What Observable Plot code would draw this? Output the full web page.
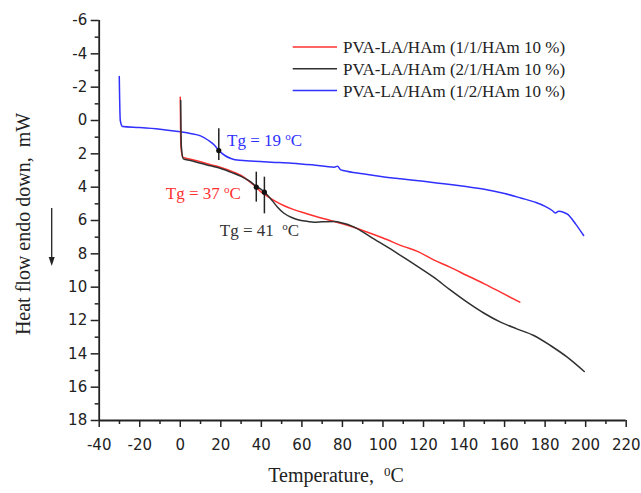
<!DOCTYPE html>
<html>
<head>
<meta charset="utf-8">
<script src="https://cdn.jsdelivr.net/npm/d3@7"></script>
<script src="https://cdn.jsdelivr.net/npm/@observablehq/plot@0.6"></script>
<style>
  html, body { margin: 0; padding: 0; background: #fff; }
  #chart { position: relative; width: 641px; height: 493px; }
</style>
</head>
<body>
<div id="chart"></div>
<script>
// ---- data ----
const seriesNames = ["PVA-LA/HAm (1/1/HAm 10 %)", "PVA-LA/HAm (2/1/HAm 10 %)", "PVA-LA/HAm (1/2/HAm 10 %)"];
const seriesColors = ["#ff3030", "#303030", "#3030ff"];

const redT = [0, 0.3, 1.2, 5, 10, 15, 20, 26, 30, 34, 37.5, 40, 43, 47, 51, 56, 62, 69, 75, 80, 90, 100, 110, 117, 125, 133, 141.5, 150, 158, 167.5];
const redV = [-1.4, 1.5, 2.2, 2.32, 2.48, 2.65, 2.82, 3.08, 3.3, 3.65, 4.0, 4.3, 4.55, 4.85, 5.1, 5.35, 5.58, 5.83, 6.03, 6.2, 6.6, 7.05, 7.55, 7.85, 8.36, 8.8, 9.3, 9.8, 10.3, 10.9];

const blackT = [0.2, 0.5, 1.5, 5, 10, 15, 20, 26, 30, 34, 37, 41.2, 45, 48, 51, 55, 59, 63, 66, 70, 76, 80, 85, 90, 95.5, 103.7, 110, 117, 125, 133, 141.5, 149.7, 158, 166, 174.4, 182.6, 190.9, 199.3];
const blackV = [-1.2, 1.5, 2.3, 2.4, 2.57, 2.72, 2.88, 3.15, 3.35, 3.62, 3.9, 4.26, 4.75, 5.2, 5.55, 5.82, 5.98, 6.06, 6.1, 6.08, 6.06, 6.15, 6.35, 6.68, 7.1, 7.7, 8.2, 8.75, 9.4, 10.15, 10.9, 11.55, 12.1, 12.5, 12.9, 13.5, 14.2, 15.06];

const blueT = [-30.1, -29.6, -28.5, -20, -10, 0, 5, 10, 14, 17, 19, 22, 25, 27, 35, 45, 55, 65, 76, 77.6, 79, 81, 90, 99, 108.6, 120, 130, 140, 150, 160, 168, 175, 180, 183.5, 185, 186.7, 189, 191, 195, 199];
const blueV = [-2.64, 0.0, 0.36, 0.42, 0.52, 0.68, 0.78, 0.92, 1.2, 1.5, 1.8, 2.1, 2.28, 2.35, 2.43, 2.5, 2.56, 2.66, 2.8, 2.74, 2.95, 3.02, 3.2, 3.36, 3.5, 3.65, 3.8, 3.95, 4.12, 4.38, 4.65, 4.9, 5.15, 5.4, 5.55, 5.45, 5.5, 5.62, 6.2, 6.9];

// Tg annotations
const tgT = [19, 37.5, 41.5];
const tgDotV = [1.8, 4.0, 4.3];
const tgBarTop = [0.5, 3.1, 3.4];
const tgBarBottom = [2.4, 4.9, 5.6];
const tgLabels = ["Tg = 19 °C", "Tg = 37 °C", "Tg = 41  °C"];
const tgLabelT = [23.1, 29.9, 19.5];
const tgLabelV = [1.2, 4.36, 6.6];

const xMajor = d3.range(-40, 221, 20);
const xMinor = d3.range(-30, 220, 20);
const yMajor = d3.range(-6, 19, 2);
const yMinor = d3.range(-5, 18, 2);

const xLabel = "Temperature,  °C";
const yLabel = "Heat flow endo down,  mW";

// ---- build tables ----
const toRows = (T, V) => T.map((t, i) => ({t, v: V[i]}));
const red = toRows(redT, redV);
const black = toRows(blackT, blackV);
const blue = toRows(blueT, blueV);
const tg = tgT.map((t, i) => ({t, dot: tgDotV[i], y1: tgBarTop[i], y2: tgBarBottom[i]}));
const tgText = tgLabels.map((s, i) => ({text: s, t: tgLabelT[i], v: tgLabelV[i]}));

const serif = "'Liberation Serif', 'Times New Roman', serif";
const AX = "#222";

const plot = Plot.plot({
  width: 641,
  height: 493,
  marginLeft: 98.7,
  marginRight: 15.3,
  marginTop: 20,
  marginBottom: 73,
  style: {fontFamily: "'DejaVu Sans', sans-serif", fontSize: "15px", color: AX, background: "#fff"},
  x: {domain: [-40, 220]},
  y: {domain: [-6, 18], reverse: true},
  marks: [
    Plot.axisX({ticks: xMajor, tickSize: 7, tickPadding: 12, label: null, tickFormat: d => String(d), stroke: AX, strokeWidth: 1.5}),
    Plot.axisX({ticks: xMinor, tickSize: 4, label: null, tickFormat: () => "", stroke: AX, strokeWidth: 1.5}),
    Plot.axisY({ticks: yMajor, tickSize: 8, tickPadding: 4, label: null, tickFormat: d => String(d), stroke: AX, strokeWidth: 1.5}),
    Plot.axisY({ticks: yMinor, tickSize: 4, label: null, tickFormat: () => "", stroke: AX, strokeWidth: 1.5}),
    Plot.ruleX([-40], {stroke: AX, strokeWidth: 1.8}),
    Plot.ruleY([18], {stroke: AX, strokeWidth: 1.8}),
    Plot.line(blue, {x: "t", y: "v", stroke: seriesColors[2], strokeWidth: 1.5, curve: "monotone-x"}),
    Plot.line(red, {x: "t", y: "v", stroke: seriesColors[0], strokeWidth: 1.5, curve: "monotone-x"}),
    Plot.line(black, {x: "t", y: "v", stroke: seriesColors[1], strokeWidth: 1.5, curve: "monotone-x"}),
    Plot.ruleX(tg, {x: "t", y1: "y1", y2: "y2", stroke: "#222", strokeWidth: 1.5}),
    Plot.dot(tg, {x: "t", y: "dot", r: 2.6, fill: "#111"}),
    Plot.text([tgText[0]], {x: "t", y: "v", text: "text", textAnchor: "start", fill: seriesColors[2], fontFamily: serif, fontSize: 17}),
    Plot.text([tgText[1]], {x: "t", y: "v", text: "text", textAnchor: "end", fill: seriesColors[0], fontFamily: serif, fontSize: 17}),
    Plot.text([tgText[2]], {x: "t", y: "v", text: "text", textAnchor: "start", fill: "#333", fontFamily: serif, fontSize: 17})
  ]
});

document.getElementById("chart").appendChild(plot);
const svg = d3.select(plot);

// superscript character before C (replaces the degree sign)
function superscriptDegree(sel, supChar) {
  sel.each(function() {
    const el = d3.select(this);
    const s = el.text();
    const k = s.indexOf("°");
    if (k < 0) return;
    el.text(null);
    el.append("tspan").text(s.slice(0, k));
    el.append("tspan").attr("dy", "-0.5em").attr("font-size", "0.65em").text(supChar);
    el.append("tspan").attr("dy", "0.325em").text(s.slice(k + 1));
  });
}
superscriptDegree(svg.selectAll("text"), "o");

// axis titles
const xt = svg.append("text")
  .attr("x", 336).attr("y", 482)
  .attr("text-anchor", "middle")
  .attr("font-family", serif).attr("font-size", 20).attr("fill", AX)
  .text(xLabel);
superscriptDegree(xt, "0");

svg.append("text")
  .attr("transform", "translate(30,224) rotate(-90)")
  .attr("text-anchor", "middle")
  .attr("font-family", serif).attr("font-size", 20).attr("fill", AX)
  .text(yLabel);

// downward arrow next to y title
const arrowG = svg.append("g").attr("stroke", AX).attr("fill", AX);
arrowG.append("line").attr("x1", 51.7).attr("x2", 51.7).attr("y1", 208).attr("y2", 262).attr("stroke-width", 1.3);
arrowG.append("path").attr("d", "M48.7,257 L54.7,257 L51.7,266 Z").attr("stroke", "none");

// legend
const leg = svg.append("g");
seriesNames.forEach((name, i) => {
  const y = 47 + 21.8 * i;
  leg.append("line").attr("x1", 292.7).attr("x2", 337).attr("y1", y).attr("y2", y)
    .attr("stroke", seriesColors[i]).attr("stroke-width", 1.5);
  leg.append("text").attr("x", 343).attr("y", y).attr("dy", "0.35em")
    .attr("text-anchor", "start")
    .attr("font-family", serif).attr("font-size", 17).attr("fill", AX)
    .text(name);
});
</script>
</body>
</html>
